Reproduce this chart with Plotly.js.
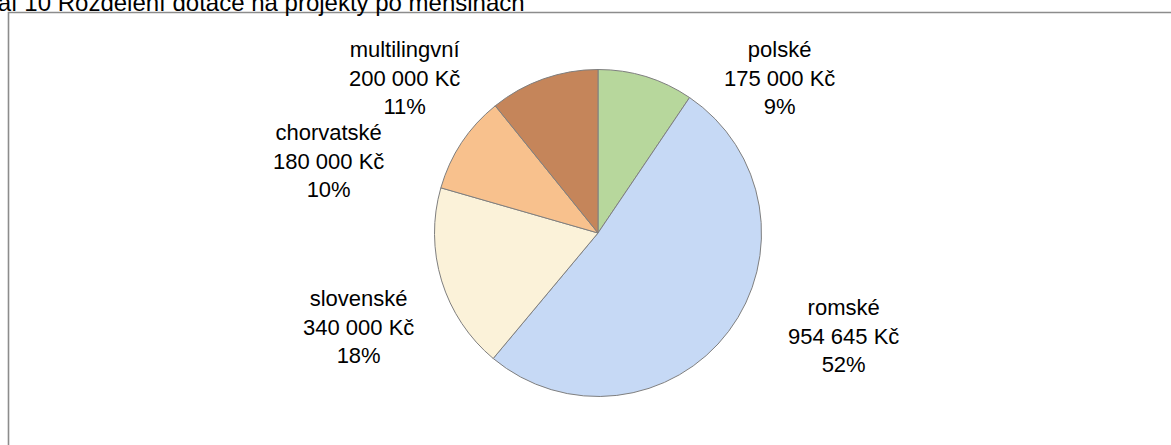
<!DOCTYPE html>
<html>
<head>
<meta charset="utf-8">
<script src="https://cdn.plot.ly/plotly-3.0.1.min.js"></script>
<style>
  html, body { margin: 0; padding: 0; background: #ffffff; }
  #chart { width: 1171px; height: 445px; }
</style>
</head>
<body>
<div id="chart"></div>
<script>
// ---- data ----
const categories = ["polské", "romské", "slovenské", "chorvatské", "multilingvní"];
const amounts = [175000, 954645, 340000, 180000, 200000];
const currency = "Kč";
const chartTitle = "Graf 10 Rozdělení dotace na projekty po menšinách";

// ---- styling ----
const sliceColors = ["#b7d79c", "#c6d9f5", "#fbf2d9", "#f8c18d", "#c5855a"];
// label block centres in pixels (layout only)
const labelPx = [[779, 78], [843, 336], [358, 327], [328, 161], [404, 78]];

const W = 1171, H = 445;
const FONT = "'Liberation Sans Narrow', 'Arial Narrow', 'Liberation Sans', Arial, sans-serif";

function fmt(n) {
  return String(n).replace(/\B(?=(\d{3})+(?!\d))/g, " ");
}
const total = amounts.reduce((a, b) => a + b, 0);

const annotations = categories.map((c, i) => ({
  text: c + "<br>" + fmt(amounts[i]) + " " + currency + "<br>" + Math.round(amounts[i] / total * 100) + "%",
  xref: "paper", yref: "paper",
  x: labelPx[i][0] / W, y: 1 - labelPx[i][1] / H,
  xanchor: "center", yanchor: "middle",
  showarrow: false,
  align: "center",
  font: { family: FONT, size: 22, color: "#000000" }
}));

annotations.push({
  text: chartTitle,
  xref: "paper", yref: "paper",
  x: 527 / W, y: 1 - 3 / H,
  xanchor: "right", yanchor: "middle",
  showarrow: false,
  font: { family: FONT, size: 24, color: "#000000" }
});

const cx = 598, cy = 233, r = 163.5;

const trace = {
  type: "pie",
  labels: categories,
  values: amounts,
  sort: false,
  direction: "clockwise",
  rotation: 0,
  textinfo: "none",
  hoverinfo: "label+value+percent",
  marker: { colors: sliceColors, line: { color: "#7f7f7f", width: 1 } },
  domain: { x: [(cx - r) / W, (cx + r) / W], y: [1 - (cy + r) / H, 1 - (cy - r) / H] }
};

const layout = {
  width: W, height: H,
  margin: { l: 0, r: 0, t: 0, b: 0 },
  paper_bgcolor: "#ffffff",
  showlegend: false,
  annotations: annotations,
  shapes: [{
    type: "rect", xref: "paper", yref: "paper",
    x0: 8.5 / W, x1: 1.05, y0: -0.1, y1: 1 - 12.5 / H,
    line: { color: "#8c8c8c", width: 1.6 },
    fillcolor: "rgba(0,0,0,0)"
  }]
};

Plotly.newPlot("chart", [trace], layout, { displayModeBar: false, staticPlot: true });
</script>
</body>
</html>
